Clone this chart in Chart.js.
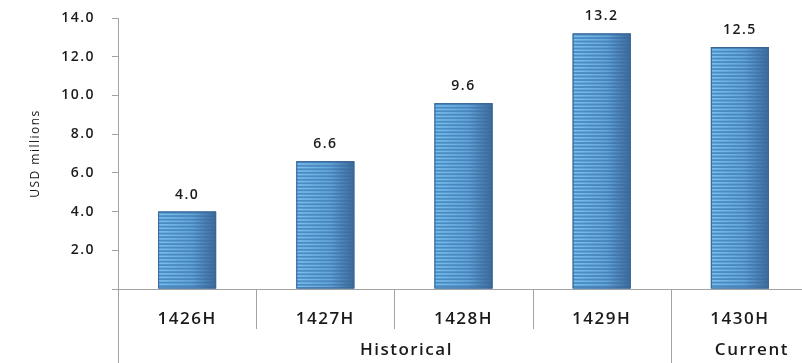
<!DOCTYPE html>
<html>
<head>
<meta charset="utf-8">
<script src="https://cdn.jsdelivr.net/npm/chart.js@4"></script>
<style>
  body { margin: 0; background: #fff; overflow: hidden; }
  #wrap { width: 812px; height: 363px; }
</style>
</head>
<body>
<div id="wrap"><canvas id="chart"></canvas></div>
<script>
// Chart data
const categories = ['1426H', '1427H', '1428H', '1429H', '1430H'];
const values = [4.0, 6.6, 9.6, 13.2, 12.5];
const groupLabels = ['Historical', 'Current'];
const groupSizes = [4, 1];
const yMin = 0;
const yMax = 14;
const yStep = 2;

const FONT = "'Open Sans', 'Noto Sans', sans-serif";
const TEXT = '#1a1a1a';
const AXIS = '#a3a3a3';

// Striped blue bar look, drawn over each bar the library laid out
const drawStripedBar = (ctx, left, top, width, height) => {
  const right = left + width;
  const base = ctx.createLinearGradient(left, 0, right, 0);
  base.addColorStop(0, '#4a8ec7');
  base.addColorStop(0.55, '#4886be');
  base.addColorStop(1, '#3b6899');
  ctx.fillStyle = base;
  ctx.fillRect(left, top, width, height);

  const stripe = ctx.createLinearGradient(left, 0, right, 0);
  stripe.addColorStop(0, 'rgba(128,196,240,0.95)');
  stripe.addColorStop(0.6, 'rgba(112,178,228,0.7)');
  stripe.addColorStop(1, 'rgba(90,140,190,0.05)');
  ctx.fillStyle = stripe;
  for (let y = top + 2; y < top + height - 1; y += 3.5) {
    ctx.fillRect(left, y, width, 1.6);
  }
  ctx.strokeStyle = '#3a6592';
  ctx.lineWidth = 1;
  ctx.strokeRect(left + 0.5, top + 0.5, width - 1, height - 1);
};

const barDecor = {
  id: 'barDecor',
  beforeDraw: (chart) => {
    chart.ctx.letterSpacing = '1.5px';
  },
  afterDatasetsDraw: (chart) => {
    const ctx = chart.ctx;
    const meta = chart.getDatasetMeta(0);
    ctx.save();
    meta.data.forEach((bar, i) => {
      const { x, y, base, width } = bar.getProps(['x', 'y', 'base', 'width'], true);
      drawStripedBar(ctx, x - width / 2, y, width, base - y);
      ctx.fillStyle = TEXT;
      ctx.font = `600 14px ${FONT}`;
      ctx.textAlign = 'center';
      ctx.textBaseline = 'bottom';
      ctx.fillText(values[i].toFixed(1), x, y - 10);
    });
    ctx.restore();
  },
  afterDraw: (chart) => {
    const ctx = chart.ctx;
    const xs = chart.scales.x;
    const area = chart.chartArea;
    const h = chart.height;
    const step = (xs.right - xs.left) / categories.length;
    ctx.save();
    ctx.strokeStyle = AXIS;
    ctx.lineWidth = 1;

    // y axis runs down past the category labels
    ctx.beginPath();
    ctx.moveTo(Math.round(area.left) + 0.5, area.bottom);
    ctx.lineTo(Math.round(area.left) + 0.5, h);
    ctx.stroke();

    // dividers between categories
    let idx = 0;
    const groupEnds = groupSizes.map(s => (idx += s));
    for (let k = 1; k < categories.length; k++) {
      const px = Math.round(xs.left + k * step) + 0.5;
      const full = groupEnds.includes(k);
      ctx.beginPath();
      ctx.moveTo(px, area.bottom);
      ctx.lineTo(px, full ? h : area.bottom + 40);
      ctx.stroke();
    }

    // group labels
    ctx.fillStyle = TEXT;
    ctx.font = `600 17px ${FONT}`;
    ctx.textAlign = 'center';
    ctx.textBaseline = 'middle';
    let start = 0;
    groupLabels.forEach((label, g) => {
      const end = start + groupSizes[g];
      const cx = (xs.left + start * step + xs.left + end * step) / 2 + 12;
      ctx.fillText(label, cx, 350);
      start = end;
    });
    ctx.restore();
  }
};

const ctx = document.getElementById('chart').getContext('2d');
const chart = new Chart(ctx, {
  type: 'bar',
  data: {
    labels: categories,
    datasets: [{
      data: values,
      backgroundColor: '#4a8ec7',
      borderWidth: 0,
      categoryPercentage: 1,
      barPercentage: 0.42
    }]
  },
  options: {
    responsive: true,
    maintainAspectRatio: false,
    animation: false,
    layout: { padding: { top: 18, right: 3, left: 0, bottom: 0 } },
    plugins: {
      legend: { display: false },
      tooltip: { enabled: false }
    },
    scales: {
      x: {
        grid: { display: false },
        border: { display: true, color: AXIS, width: 1 },
        ticks: {
          color: TEXT,
          padding: 12,
          maxRotation: 0,
          font: { family: FONT, size: 17, weight: '600' }
        },
        afterFit: (scale) => {
          scale.height = 74;
          scale.paddingLeft = 0;
          scale.paddingRight = 0;
        }
      },
      y: {
        min: yMin,
        max: yMax,
        grid: {
          drawOnChartArea: false,
          drawTicks: true,
          tickLength: 6,
          color: AXIS
        },
        border: { display: true, color: AXIS, width: 1 },
        ticks: {
          stepSize: yStep,
          color: TEXT,
          padding: 17,
          font: { family: FONT, size: 14, weight: '600' },
          callback: (v) => (v === 0 ? '' : Number(v).toFixed(1))
        },
        title: {
          display: true,
          text: 'USD millions',
          color: TEXT,
          padding: { top: 28, bottom: 0 },
          font: { family: FONT, size: 12, weight: 'normal' }
        },
        afterFit: (scale) => {
          scale.width = 118;
          scale.paddingTop = 0;
          scale.paddingBottom = 0;
        }
      }
    }
  },
  plugins: [barDecor]
});
</script>
</body>
</html>
